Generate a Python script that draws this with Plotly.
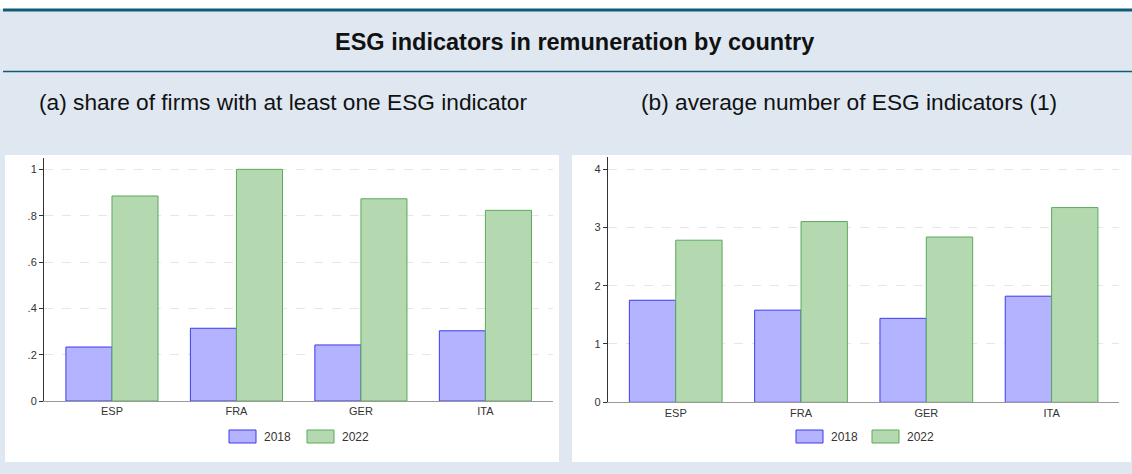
import plotly.graph_objects as go

# ---- data ----
countries = ["ESP", "FRA", "GER", "ITA"]
years = ["2018", "2022"]
share_2018 = [0.233, 0.314, 0.242, 0.303]
share_2022 = [0.885, 1.0, 0.873, 0.823]
avg_2018 = [1.75, 1.58, 1.44, 1.82]
avg_2022 = [2.78, 3.10, 2.835, 3.34]
left_ticks = [0, 0.2, 0.4, 0.6, 0.8, 1.0]
left_ticktext = ["0", ".2", ".4", ".6", ".8", "1"]
right_ticks = [0, 1, 2, 3, 4]
right_ticktext = ["0", "1", "2", "3", "4"]

title = "ESG indicators in remuneration by country"
sub_a = "(a) share of firms with at least one ESG indicator"
sub_b = "(b) average number of ESG indicators (1)"

# ---- styles ----
W, H = 1132, 474
BG = "#dfe8f1"
TEAL = "#115a7a"
FILL = {"2018": "#b3b3ff", "2022": "#b4d8b0"}
EDGE = {"2018": "#3b3bee", "2022": "#5aab5a"}
FONT = "Liberation Sans, Arial, sans-serif"


def px(x):
    return x / W


def py(y):
    return 1 - y / H


fig = go.Figure()

series = [
    ("x", "y", [share_2018, share_2022]),
    ("x2", "y2", [avg_2018, avg_2022]),
]
for xa, ya, vals in series:
    for yr, v in zip(years, vals):
        fig.add_trace(go.Bar(
            x=countries, y=v, name=yr, xaxis=xa, yaxis=ya,
            marker=dict(color=FILL[yr], line=dict(color=EDGE[yr], width=1)),
            showlegend=False, hoverinfo="skip",
        ))

axis_common = dict(
    showline=True, linewidth=1, automargin=False,
    tickfont=dict(family=FONT, size=11, color="#333333"),
)

fig.update_layout(
    width=W, height=H,
    margin=dict(l=0, r=0, t=0, b=0, pad=0, autoexpand=False),
    paper_bgcolor=BG, plot_bgcolor="white",
    barmode="group", bargap=0.26, bargroupgap=0,
    font=dict(family=FONT, color="#222222"),
    xaxis=dict(domain=[px(44), px(553)], anchor="y", type="category",
               range=[-0.546, 3.543], linecolor="#9a9a9a", ticks="",
               showgrid=False, **axis_common),
    yaxis=dict(domain=[py(401), py(158)], anchor="x", range=[0, 1.049],
               tickvals=left_ticks, ticktext=left_ticktext,
               linecolor="#333333", ticks="outside", ticklen=4,
               tickcolor="#333333", showgrid=True, gridcolor="#e6e6e6",
               griddash="dash", zeroline=False, **axis_common),
    xaxis2=dict(domain=[px(607.7), px(1119)], anchor="y2", type="category",
                range=[-0.543, 3.538], linecolor="#9a9a9a", ticks="",
                showgrid=False, **axis_common),
    yaxis2=dict(domain=[py(402.3), py(157)], anchor="x2", range=[0, 4.207],
                tickvals=right_ticks, ticktext=right_ticktext,
                linecolor="#333333", ticks="outside", ticklen=4,
                tickcolor="#333333", showgrid=True, gridcolor="#e6e6e6",
                griddash="dash", zeroline=False, **axis_common),
)

shapes = [
    # white top strip
    dict(type="rect", xref="paper", yref="paper", x0=0, x1=1, y0=py(9), y1=1,
         fillcolor="white", line_width=0, layer="below"),
    # teal top rule
    dict(type="line", xref="paper", yref="paper", x0=px(3), x1=1, y0=py(10), y1=py(10),
         line=dict(color=TEAL, width=3)),
    # divider rule under title
    dict(type="line", xref="paper", yref="paper", x0=px(3), x1=1, y0=py(71.5), y1=py(71.5),
         line=dict(color=TEAL, width=1.5)),
    # white chart panels
    dict(type="rect", xref="paper", yref="paper", x0=px(5), x1=px(559), y0=py(462), y1=py(155),
         fillcolor="white", line_width=0, layer="below"),
    dict(type="rect", xref="paper", yref="paper", x0=px(572), x1=px(1131), y0=py(462), y1=py(155),
         fillcolor="white", line_width=0, layer="below"),
]

annotations = [
    dict(text=title, x=px(575), y=py(42), xref="paper", yref="paper", showarrow=False,
         font=dict(family=FONT, size=23.5, color="#111111", weight="bold"),
         xanchor="center", yanchor="middle"),
    dict(text=sub_a, x=px(282.5), y=py(102), xref="paper", yref="paper", showarrow=False,
         font=dict(family=FONT, size=22.7, color="#111111"), xanchor="center", yanchor="middle"),
    dict(text=sub_b, x=px(848.5), y=py(102), xref="paper", yref="paper", showarrow=False,
         font=dict(family=FONT, size=22.7, color="#111111"), xanchor="center", yanchor="middle"),
]

# custom legends (swatch + label) for each panel
legend_pos = [(229, 307), (796, 872)]
for starts in legend_pos:
    for yr, x0 in zip(years, starts):
        shapes.append(dict(type="rect", xref="paper", yref="paper",
                           x0=px(x0), x1=px(x0 + 27), y0=py(443), y1=py(430),
                           fillcolor=FILL[yr], line=dict(color=EDGE[yr], width=1)))
        annotations.append(dict(text=yr, x=px(x0 + 33), y=py(436.5), xref="paper", yref="paper",
                                showarrow=False, xanchor="left", yanchor="middle",
                                font=dict(family=FONT, size=12, color="#333333")))

fig.update_layout(shapes=shapes, annotations=annotations)

post = """
var gd = document.getElementById('{plot_id}');
gd.style.display = 'block';
gd.parentElement.style.lineHeight = '0';
[document.documentElement, document.body].forEach(function (el) {
  el.style.margin = '0';
  el.style.padding = '0';
  el.style.overflow = 'hidden';
  el.style.height = '474px';
});
"""
fig.write_html("out.html", config={"displayModeBar": False}, post_script=post)
